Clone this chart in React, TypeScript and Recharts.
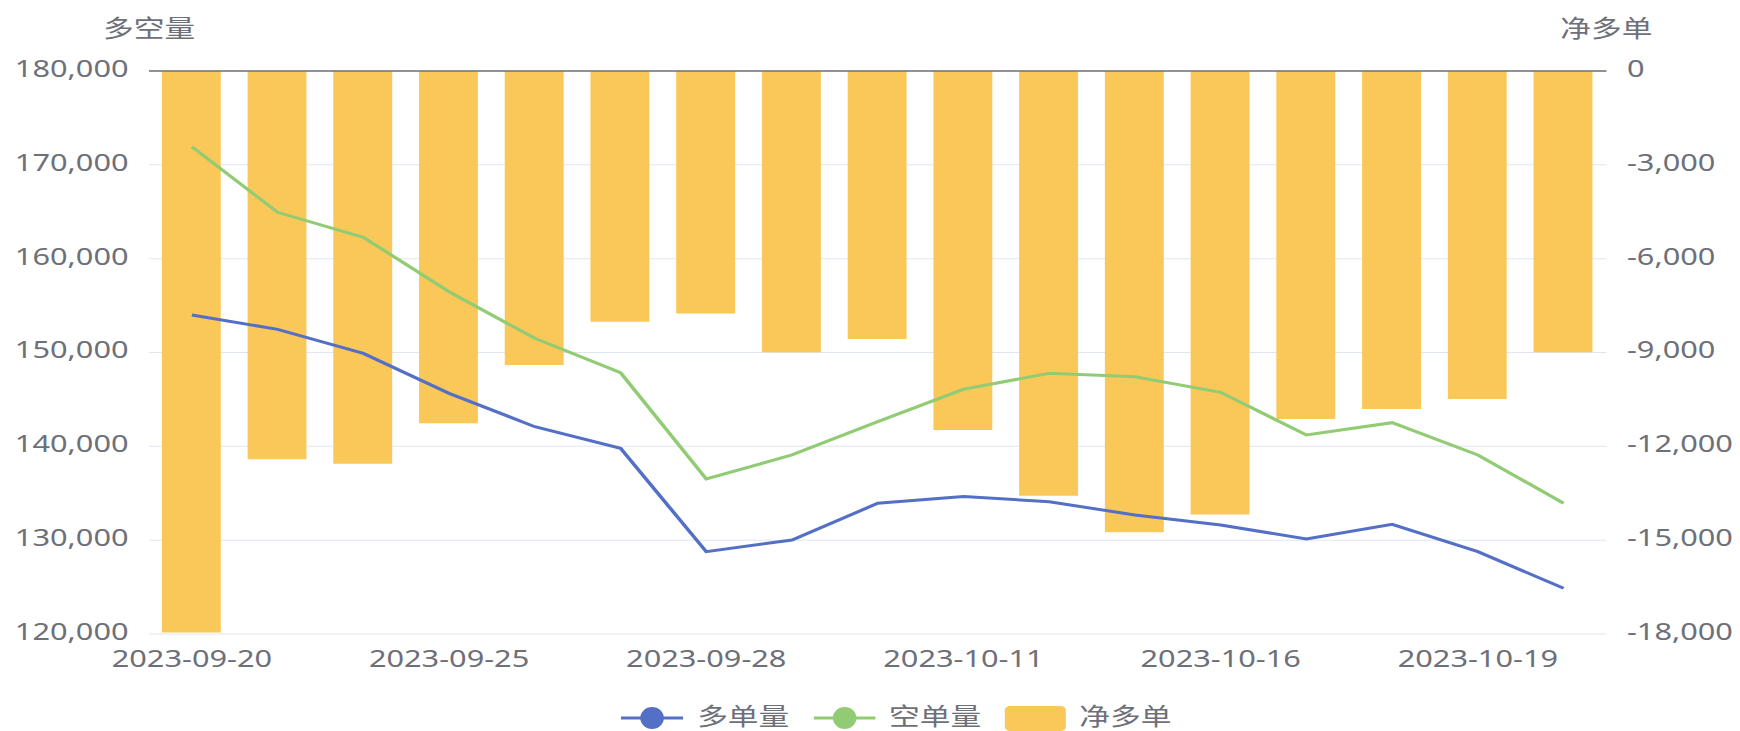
import React from 'react';
import {
  ComposedChart,
  Bar,
  Line,
  XAxis,
  YAxis,
  CartesianGrid,
  ReferenceLine,
  Legend,
  Label,
} from 'recharts';

const dates = [
  '2023-09-20', '2023-09-21', '2023-09-22', '2023-09-25', '2023-09-26', '2023-09-27',
  '2023-09-28', '2023-10-09', '2023-10-10', '2023-10-11', '2023-10-12', '2023-10-13',
  '2023-10-16', '2023-10-17', '2023-10-18', '2023-10-19', '2023-10-20',
];
const longVolume = [
  154000, 152470, 149910, 145650, 142090, 139790, 128770, 130020, 133930,
  134640, 134100, 132680, 131620, 130120, 131690, 128770, 124870,
];
const shortVolume = [
  171930, 164940, 162280, 156480, 151510, 147850, 136520, 139080, 142630,
  146080, 147780, 147420, 145760, 141210, 142520, 139080, 133930,
];
const netLong = [
  -17950, -12410, -12560, -11260, -9400, -8020, -7750, -8990, -8570,
  -11480, -13580, -14750, -14180, -11130, -10810, -10490, -8990,
];
const leftTicks = [120000, 130000, 140000, 150000, 160000, 170000, 180000];
const rightTicks = [-18000, -15000, -12000, -9000, -6000, -3000, 0];

const data = dates.map((d, i) => ({
  date: d,
  long: longVolume[i],
  short: shortVolume[i],
  net: netLong[i],
}));

const W = 1359;
const H = 731;
const K = 1740 / W;
const FONT = "'Noto Sans', 'Noto Sans CJK SC', sans-serif";
const CJK_FONT = "'Noto Sans CJK SC', sans-serif";
const TEXT = '#6E7079';
const BLUE = '#5470C6';
const GREEN = '#91CC75';
const YELLOW = '#FAC858';

const fmt = (v: number) => v.toLocaleString('en-US');

const LeftTick = (props: any) => {
  const { x, y, payload } = props;
  return (
    <text x={x} y={y + 6} textAnchor="end" fill={TEXT} fontSize={24} fontFamily={FONT}>
      {fmt(payload.value)}
    </text>
  );
};

const RightTick = (props: any) => {
  const { x, y, payload } = props;
  return (
    <text x={x} y={y + 6} textAnchor="start" fill={TEXT} fontSize={24} fontFamily={FONT}>
      {fmt(payload.value)}
    </text>
  );
};

const BottomTick = (props: any) => {
  const { x, y, payload } = props;
  return (
    <text x={x} y={y + 17} textAnchor="middle" fill={TEXT} fontSize={24} fontFamily={FONT}>
      {payload.value}
    </text>
  );
};

const LeftTitle = (props: any) => {
  const vb = props.viewBox || {};
  return (
    <text
      x={vb.x + vb.width}
      y={vb.y - 44.5}
      textAnchor="middle"
      dominantBaseline="central"
      fill={TEXT}
      fontSize={24}
      fontFamily={CJK_FONT}
    >
      多空量
    </text>
  );
};

const RightTitle = (props: any) => {
  const vb = props.viewBox || {};
  return (
    <text
      x={vb.x}
      y={vb.y - 44.5}
      textAnchor="middle"
      dominantBaseline="central"
      fill={TEXT}
      fontSize={24}
      fontFamily={CJK_FONT}
    >
      净多单
    </text>
  );
};

const LegendContent = () => (
  <svg width={W} height={33} style={{ display: 'block', overflow: 'visible' }}>
    <line x1={485} x2={533.5} y1={20} y2={20} stroke={BLUE} strokeWidth={3} />
    <ellipse cx={509.3} cy={20} rx={9.2} ry={11} fill={BLUE} />
    <text x={544.5} y={16.5} dominantBaseline="central" fill={TEXT} fontSize={24} fontFamily={CJK_FONT}>
      多单量
    </text>
    <line x1={635.7} x2={683.7} y1={20} y2={20} stroke={GREEN} strokeWidth={3} />
    <ellipse cx={659.7} cy={20} rx={9.2} ry={11} fill={GREEN} />
    <text x={694.3} y={16.5} dominantBaseline="central" fill={TEXT} fontSize={24} fontFamily={CJK_FONT}>
      空单量
    </text>
    <rect x={784.8} y={8} width={47.7} height={25} rx={4} ry={4} fill={YELLOW} />
    <text x={843} y={16.5} dominantBaseline="central" fill={TEXT} fontSize={24} fontFamily={CJK_FONT}>
      净多单
    </text>
  </svg>
);

export default function App() {
  return (
    <div
      style={{
        position: 'absolute',
        left: 0,
        top: 0,
        width: 1740,
        height: H,
        overflow: 'hidden',
        background: '#ffffff',
      }}
    >
      <div style={{ width: W, height: H, transform: `scaleX(${K})`, transformOrigin: '0 0' }}>
        <ComposedChart
          width={W}
          height={H}
          data={data}
          margin={{ top: 71, right: 4.3, bottom: 67, left: 16.4 }}
        >
          <CartesianGrid yAxisId="left" vertical={false} stroke="#E0E6F1" strokeWidth={1} />
          <XAxis
            dataKey="date"
            type="category"
            interval={2}
            axisLine={false}
            tickLine={false}
            tickSize={6}
            tickMargin={10}
            height={30}
            tick={<BottomTick />}
          />
          <YAxis
            yAxisId="left"
            orientation="left"
            width={100}
            domain={[120000, 180000]}
            ticks={leftTicks}
            axisLine={false}
            tickLine={false}
            tickSize={6}
            tickMargin={10}
            tick={<LeftTick />}
            label={<Label content={LeftTitle} />}
            allowDataOverflow
          />
          <YAxis
            yAxisId="right"
            orientation="right"
            width={100}
            domain={[-18000, 0]}
            ticks={rightTicks}
            axisLine={false}
            tickLine={false}
            tickSize={6}
            tickMargin={10}
            tick={<RightTick />}
            label={<Label content={RightTitle} />}
            allowDataOverflow
          />
          <ReferenceLine yAxisId="right" y={0} stroke={TEXT} strokeWidth={1.5} />
          <Bar
            yAxisId="right"
            dataKey="net"
            name="净多单"
            fill={YELLOW}
            barSize={46}
            isAnimationActive={false}
          />
          <Line
            yAxisId="left"
            type="linear"
            dataKey="long"
            name="多单量"
            stroke={BLUE}
            strokeWidth={3}
            dot={false}
            activeDot={false}
            isAnimationActive={false}
          />
          <Line
            yAxisId="left"
            type="linear"
            dataKey="short"
            name="空单量"
            stroke={GREEN}
            strokeWidth={3}
            dot={false}
            activeDot={false}
            isAnimationActive={false}
          />
          <Legend
            layout="horizontal"
            verticalAlign="middle"
            align="center"
            content={<LegendContent />}
            wrapperStyle={{ left: 0, top: 698, width: W, height: 33, margin: 0, padding: 0 }}
          />
        </ComposedChart>
      </div>
    </div>
  );
}
